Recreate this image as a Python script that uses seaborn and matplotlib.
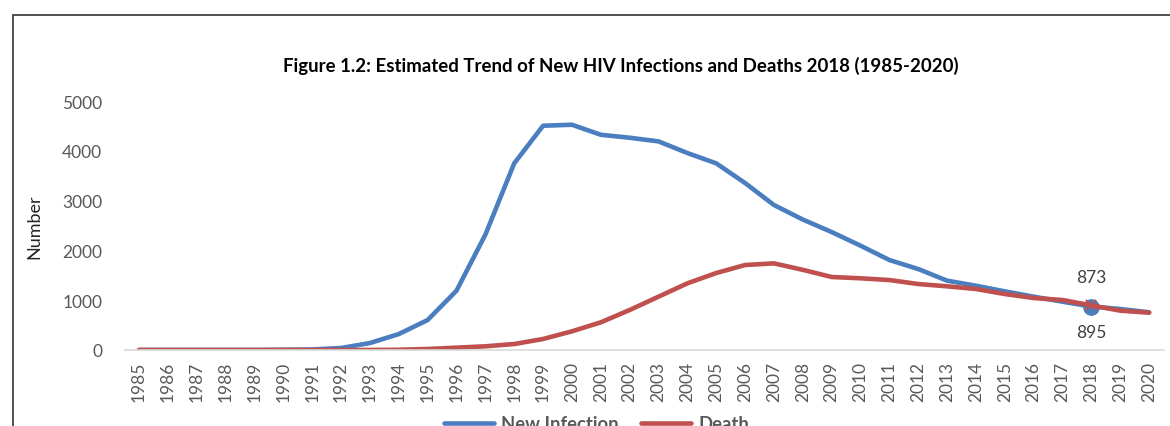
import pandas as pd
import matplotlib.pyplot as plt
import seaborn as sns
from matplotlib.patches import Rectangle

# values
years = list(range(1985, 2021))
new_infection = [0, 0, 0, 0, 0, 5, 10, 40, 140, 320, 602, 1191, 2316, 3749, 4504, 4524,
                 4323, 4263, 4190, 3956, 3749, 3353, 2912, 2620, 2369, 2095, 1807, 1626,
                 1392, 1291, 1178, 1071, 970, 873, 823, 757]
death = [0, 0, 0, 0, 0, 0, 0, 0, 0, 5, 20, 47, 74, 120, 221, 375,
         556, 803, 1071, 1339, 1546, 1707, 1740, 1610, 1466, 1440, 1405, 1325,
         1279, 1225, 1124, 1044, 1004, 895, 790, 749]
series_names = ["New Infection", "Death"]
colors = {"New Infection": "#4A7EBE", "Death": "#C0504D"}
highlight_year = 2018

df = pd.DataFrame({"year": years * 2,
                   "value": new_infection + death,
                   "series": [series_names[0]] * len(years) + [series_names[1]] * len(years)})

sns.set_style("white")
plt.rcParams["font.family"] = ["Lato", "DejaVu Sans"]

fig = plt.figure(figsize=(11.7, 4.27), dpi=100)
ax = fig.add_axes([0.1065, 0.178, 0.888, 0.583])

sns.lineplot(data=df, x="year", y="value", hue="series", palette=colors,
             linewidth=3.3, ax=ax, legend=False)

# highlighted 2018 point with labels
i = years.index(highlight_year)
ax.plot(highlight_year, new_infection[i], "o", color=colors["New Infection"], markersize=11, zorder=1)
ax.plot(highlight_year, death[i], "x", color=colors["Death"], markersize=7, mew=1.5, zorder=3)
ax.annotate(str(new_infection[i]), (highlight_year, new_infection[i]), xytext=(0, 21),
            textcoords="offset points", ha="center", va="center", fontsize=12.5, color="#404040")
ax.annotate(str(death[i]), (highlight_year, death[i]), xytext=(0, -19),
            textcoords="offset points", ha="center", va="center", fontsize=12.5, color="#404040")

ax.set_xlim(1984.5, 2020.5)
ax.set_ylim(0, 5000)
ax.set_xticks(years)
ax.set_xticklabels([str(y) for y in years], rotation=90)
ax.set_yticks(range(0, 5001, 1000))
ax.tick_params(axis="both", length=0, labelsize=12.5, labelcolor="#595959")
ax.tick_params(axis="y", pad=16)
ax.tick_params(axis="x", pad=8)
for s in ["top", "right", "left"]:
    ax.spines[s].set_visible(False)
ax.spines["bottom"].set_color("#D9D9D9")
ax.spines["bottom"].set_linewidth(1.2)
ax.set_xlabel("")
ax.set_ylabel("Number", fontsize=13, color="#262626", labelpad=14)

fig.text(0.531, 0.845, "Figure 1.2: Estimated Trend of New HIV Infections and Deaths 2018 (1985-2020)",
         ha="center", va="center", fontsize=13.4, fontweight="bold", color="black")

# legend, clipped by the bottom edge like the reference
handles = [plt.Line2D([], [], color=colors[n], linewidth=3.3) for n in series_names]
leg = fig.legend(handles, series_names, loc="center", bbox_to_anchor=(0.51, 0.005), ncol=2,
                 frameon=False, fontsize=13.3, handlelength=2.7, handletextpad=0.4,
                 columnspacing=1.2)
for t in leg.get_texts():
    t.set_color("#595959")
    t.set_fontweight("bold")

# outer frame of the original document box
fig.patches.append(Rectangle((13 / 1170, -0.1), 1.2, 1 - 16 / 427 + 0.1, transform=fig.transFigure,
                             fill=False, edgecolor="#333333", linewidth=1.2))

fig.savefig("out.png", dpi=100)
